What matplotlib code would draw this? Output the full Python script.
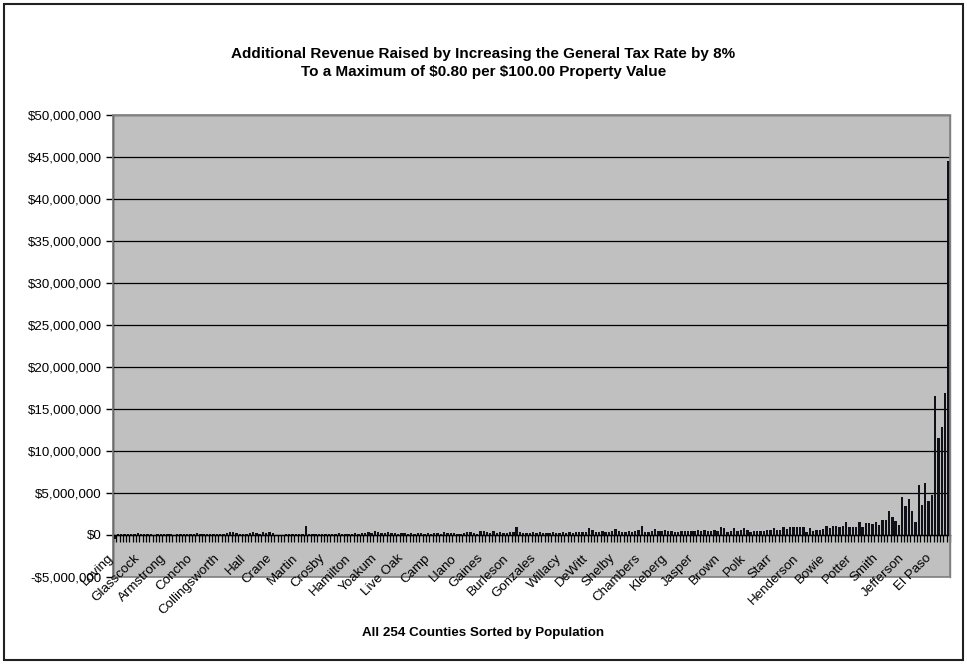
import numpy as np
import matplotlib
matplotlib.use("Agg")
import matplotlib.pyplot as plt
from matplotlib.ticker import FuncFormatter, FixedLocator
from matplotlib.patches import Rectangle

plt.rcParams['font.family'] = ['Liberation Sans', 'DejaVu Sans']

# Additional revenue per county (millions of dollars), counties ordered by population
revenue_millions = [
    -0.45, 0.10, 0.12, 0.10, 0.15, 0.15, 0.12, 0.20, 0.10, 0.12,
    0.08, 0.10, 0.05, 0.15, 0.10, 0.08, 0.12, 0.10, 0.05, 0.10,
    0.10, 0.12, 0.08, 0.10, 0.15, 0.20, 0.12, 0.10, 0.15, 0.10,
    0.12, 0.10, 0.15, 0.12, 0.20, 0.30, 0.35, 0.25, 0.15, 0.12,
    0.15, 0.18, 0.30, 0.20, 0.15, 0.40, 0.25, 0.40, 0.20, 0.02,
    0.02, 0.05, 0.10, 0.12, 0.15, 0.10, 0.12, 0.15, 1.05, 0.15,
    0.12, 0.15, 0.12, 0.10, 0.15, 0.12, 0.15, 0.10, 0.20, 0.12,
    0.15, 0.12, 0.15, 0.20, 0.15, 0.20, 0.25, 0.30, 0.20, 0.50,
    0.30, 0.25, 0.20, 0.30, 0.25, 0.20, 0.15, 0.25, 0.20, 0.15,
    0.20, 0.15, 0.20, 0.25, 0.15, 0.20, 0.15, 0.25, 0.20, 0.15,
    0.40, 0.20, 0.25, 0.20, 0.15, 0.10, 0.25, 0.30, 0.30, 0.20,
    0.15, 0.45, 0.45, 0.30, 0.20, 0.45, 0.25, 0.30, 0.25, 0.20,
    0.30, 0.35, 0.95, 0.40, 0.25, 0.20, 0.25, 0.30, 0.25, 0.30,
    0.25, 0.25, 0.25, 0.30, 0.25, 0.25, 0.30, 0.20, 0.30, 0.25,
    0.30, 0.35, 0.35, 0.30, 0.85, 0.55, 0.35, 0.30, 0.45, 0.30,
    0.35, 0.45, 0.70, 0.45, 0.40, 0.35, 0.50, 0.40, 0.45, 0.60,
    1.10, 0.40, 0.40, 0.45, 0.70, 0.45, 0.45, 0.65, 0.50, 0.50,
    0.40, 0.30, 0.50, 0.50, 0.50, 0.50, 0.45, 0.65, 0.45, 0.60,
    0.45, 0.45, 0.60, 0.45, 1.00, 0.80, 0.40, 0.50, 0.80, 0.50,
    0.60, 0.85, 0.60, 0.30, 0.50, 0.50, 0.50, 0.50, 0.60, 0.60,
    0.80, 0.60, 0.60, 0.90, 0.70, 1.00, 0.90, 0.90, 0.90, 0.90,
    0.40, 0.80, 0.50, 0.60, 0.60, 0.70, 1.10, 0.80, 1.10, 1.10,
    0.90, 1.10, 1.50, 1.00, 0.90, 1.00, 1.50, 1.00, 1.40, 1.40,
    1.30, 1.60, 1.20, 1.80, 1.80, 2.90, 2.20, 1.70, 1.20, 4.50,
    3.40, 4.30, 2.90, 1.50, 6.00, 3.60, 6.20, 4.00, 4.80, 16.50,
    11.50, 12.80, 16.90, 44.50,
]

# Every eighth county is named along the category axis
label_names = [
    "Loving", "Glasscock", "Armstrong", "Concho", "Collingsworth", "Hall",
    "Crane", "Martin", "Crosby", "Hamilton", "Yoakum", "Live Oak", "Camp",
    "Llano", "Gaines", "Burleson", "Gonzales", "Willacy", "DeWitt", "Shelby",
    "Chambers", "Kleberg", "Jasper", "Brown", "Polk", "Starr", "Henderson",
    "Bowie", "Potter", "Smith", "Jefferson", "El Paso",
]
label_step = 8

title_text = ("Additional Revenue Raised by Increasing the General Tax Rate by 8%\n"
              "To a Maximum of $0.80 per $100.00 Property Value")
xlabel_text = "All 254 Counties Sorted by Population"

values = np.array(revenue_millions) * 1e6
n = len(values)
x = np.arange(n)

W, H = 967, 664
fig = plt.figure(figsize=(W / 100, H / 100), dpi=100)
fig.patch.set_facecolor("white")

left, right, top, bottom = 113, 950, 115, 577
ax = fig.add_axes([left / W, 1 - bottom / H, (right - left) / W, (bottom - top) / H])
ax.set_facecolor("#C0C0C0")

ax.bar(x, values, width=0.72, color="#101018", edgecolor="none", zorder=3)

ax.set_xlim(-0.5, n - 0.5)
ax.set_ylim(-5e6, 50e6)

# value axis
ax.yaxis.set_major_locator(FixedLocator(np.arange(-5e6, 50e6 + 1, 5e6)))
ax.yaxis.set_major_formatter(FuncFormatter(
    lambda v, p: ("-$" if v < 0 else "$") + f"{abs(v):,.0f}"))
ax.tick_params(axis="y", direction="out", length=5, width=1, color="black",
               labelsize=9.6, pad=3)
ax.yaxis.grid(True, color="black", linewidth=0.9)
ax.set_axisbelow(True)

# category axis sits at zero, with a tick between every county
ax.spines["bottom"].set_position(("data", 0))
ax.spines["bottom"].set_color("black")
ax.spines["bottom"].set_linewidth(1.0)
ax.spines["bottom"].set_zorder(4)
ax.xaxis.set_major_locator(FixedLocator(np.arange(-0.5, n, 1.0)))
ax.tick_params(axis="x", direction="out", length=5, width=0.9, color="black",
               labelbottom=False)
ax.spines["left"].set_color("black")
ax.spines["left"].set_linewidth(1.0)
for s in ("top", "right"):
    ax.spines[s].set_color("#808080")
    ax.spines[s].set_linewidth(1.0)

# plot-area frame along the lower edge
ax.add_patch(Rectangle((0, 0), 1, 1, transform=ax.transAxes, fill=False,
                       edgecolor="#808080", linewidth=1.2, zorder=5, clip_on=False))

# county names below the zero axis
for i, name in enumerate(label_names):
    ax.annotate(name, xy=(i * label_step, 0), xytext=(-7, -17),
                textcoords="offset pixels", rotation=45,
                rotation_mode="anchor", ha="right", va="top", fontsize=9.6,
                annotation_clip=False, zorder=6)

fig.text(0.5, 1 - 63 / H, title_text, ha="center", va="center",
         fontsize=11, fontweight="bold", linespacing=1.3, parse_math=False)
fig.text(0.5, 1 - 633 / H, xlabel_text, ha="center", va="center",
         fontsize=9.6, fontweight="bold")

# outer chart border
fig.add_artist(Rectangle((4 / W, 4 / H), (W - 8) / W, (H - 8) / H,
                         transform=fig.transFigure, fill=False,
                         edgecolor="#202020", linewidth=1.5))

fig.savefig("out.png", dpi=100)
